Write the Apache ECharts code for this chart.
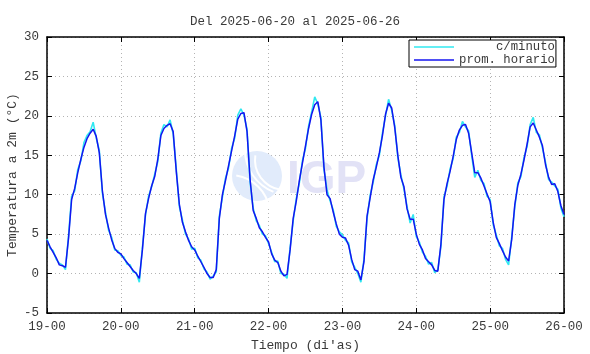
<!DOCTYPE html>
<html>
<head>
<meta charset="utf-8">
<script src="https://cdn.jsdelivr.net/npm/echarts@6/dist/echarts.min.js"></script>
<style>html,body{margin:0;padding:0;background:#fff}#c{width:590px;height:354px}</style>
</head>
<body>
<div id="c"></div>
<script>
// Hourly averages (prom. horario), one array per day, hour 0..23
const avg19 = [4.2, 3.4, 2.7, 2.0, 1.1, 1.0, 0.8, 4.5, 9.4, 10.8, 12.8, 14.5, 16.0, 17.1, 17.8, 18.3, 17.4, 15.3, 10.5, 7.5, 5.8, 4.3, 3.2, 2.7];
const avg20 = [2.5, 1.9, 1.4, 0.9, 0.4, 0.0, -0.6, 3.0, 7.6, 9.5, 11.1, 12.3, 14.5, 17.5, 18.4, 18.8, 19.0, 18.0, 13.0, 8.8, 6.5, 5.3, 4.2, 3.4];
const avg21 = [3.0, 2.2, 1.5, 0.8, 0.0, -0.5, -0.5, 0.5, 7.0, 10.0, 11.8, 13.7, 15.6, 17.5, 19.6, 20.3, 20.4, 18.0, 11.9, 8.0, 7.0, 5.8, 5.3, 4.6];
const avg22 = [4.0, 2.5, 1.7, 1.4, 0.3, -0.3, -0.1, 3.0, 7.0, 9.2, 11.8, 14.0, 16.2, 18.4, 20.2, 21.4, 21.8, 19.5, 13.5, 10.0, 9.5, 7.8, 6.3, 5.0];
const avg23 = [4.6, 4.5, 3.6, 1.8, 0.5, 0.3, -0.8, 1.5, 7.3, 9.6, 11.9, 13.5, 15.3, 17.5, 20.2, 21.6, 21.0, 18.5, 15.0, 12.2, 11.0, 8.2, 6.9, 6.9];
const avg24 = [5.0, 3.7, 3.0, 1.9, 1.5, 1.1, 0.4, 0.3, 3.7, 9.4, 11.4, 13.0, 14.9, 17.0, 18.2, 18.8, 18.9, 17.8, 15.3, 12.8, 12.8, 12.1, 11.1, 10.1];
const avg25 = [9.1, 6.5, 4.6, 3.8, 2.9, 2.1, 1.6, 4.3, 8.7, 11.2, 12.6, 14.4, 16.4, 18.6, 19.1, 18.2, 17.3, 16.2, 13.8, 12.2, 11.3, 11.4, 10.4, 8.6];
const avgEnd = [7.5];

// Minute readings (c/minuto), sampled values read at each hour
const min19 = [4.4, 3.2, 2.9, 1.8, 1.3, 1.1, 0.5, 4.8, 9.8, 10.5, 13.2, 14.3, 16.6, 17.5, 18.0, 19.2, 17.2, 15.6, 10.2, 7.8, 5.5, 4.6, 3.0, 2.9];
const min20 = [2.3, 2.1, 1.2, 1.1, 0.2, 0.1, -1.1, 3.3, 7.4, 9.8, 11.0, 12.6, 14.2, 17.8, 18.9, 18.6, 19.5, 17.7, 13.3, 8.5, 6.8, 5.0, 4.4, 3.1];
const min21 = [3.2, 2.0, 1.7, 0.6, 0.2, -0.7, -0.3, 0.2, 7.3, 9.7, 12.1, 13.4, 15.9, 17.2, 20.1, 20.9, 20.1, 18.3, 11.6, 8.3, 6.7, 6.1, 5.0, 4.8];
const min22 = [3.8, 2.7, 1.5, 1.6, 0.0, -0.1, -0.6, 3.3, 6.7, 9.5, 11.5, 14.3, 15.9, 18.7, 20.5, 22.4, 21.5, 19.8, 13.2, 10.6, 9.2, 8.1, 6.0, 5.3];
const min23 = [4.9, 4.2, 3.9, 1.5, 0.8, 0.0, -1.1, 1.8, 7.0, 9.9, 11.6, 13.8, 15.0, 17.8, 20.0, 22.1, 20.7, 18.8, 14.7, 12.5, 10.7, 8.5, 6.4, 7.5];
const min24 = [4.7, 4.0, 2.7, 2.2, 1.2, 1.4, 0.1, 0.5, 3.4, 9.7, 11.1, 13.3, 14.6, 17.3, 17.9, 19.3, 18.6, 18.1, 15.0, 12.2, 13.1, 11.8, 11.4, 9.8];
const min25 = [9.4, 6.2, 4.9, 3.5, 3.2, 1.8, 1.1, 4.6, 8.4, 11.5, 12.3, 14.7, 16.1, 18.9, 19.8, 17.9, 17.6, 15.9, 14.1, 11.9, 11.6, 11.1, 10.7, 8.3];
const minEnd = [7.2];

const dayLabels = ['19-00', '20-00', '21-00', '22-00', '23-00', '24-00', '25-00', '26-00'];
const yTicks = [-5, 0, 5, 10, 15, 20, 25, 30];
const seriesNames = ['c/minuto', 'prom. horario'];
const titleText = 'Del 2025-06-20 al 2025-06-26';
const xName = "Tiempo (di'as)";
const yName = 'Temperatura a 2m (°C)';

const hourly = [].concat(avg19, avg20, avg21, avg22, avg23, avg24, avg25, avgEnd);
const minute = [].concat(min19, min20, min21, min22, min23, min24, min25, minEnd);

const FONT = 'Liberation Mono';
const TXT = '#3a3a3a';
const CYAN = '#30e8f0';
const BLUE = '#1414f0';
const LINE_ICON = 'path://M0,0 L40,0 L40,1.3 L0,1.3 Z';

const chart = echarts.init(document.getElementById('c'), null, {renderer: 'canvas'});

const axisCommon = {
  type: 'value',
  axisLine: {show: true, onZero: false, lineStyle: {color: '#000', width: 1.5}},
  axisTick: {show: true, inside: true, length: 5, lineStyle: {color: '#000', width: 1}},
};

chart.setOption({
  animation: false,
  backgroundColor: '#fff',
  title: {
    text: titleText, left: 'center', top: 10,
    textStyle: {fontFamily: FONT, fontSize: 12.5, fontWeight: 'normal', color: TXT}
  },
  legend: {
    left: 409, top: 40, orient: 'vertical',
    data: seriesNames.map(n => ({name: n, icon: LINE_ICON})),
    symbolKeepAspect: true,
    formatter: n => n.padStart(13, ' '),
    borderColor: '#000', borderWidth: 1, borderRadius: 0,
    padding: [1, 1, 1, 5], itemGap: 1, itemWidth: 40, itemHeight: 12,
    textStyle: {fontFamily: FONT, fontSize: 12.3, color: TXT, lineHeight: 12},
    backgroundColor: '#fff'
  },
  grid: {left: 47, right: 26, top: 37, bottom: 41, containLabel: false, outerBoundsMode: 'none'},
  xAxis: [
    Object.assign({}, axisCommon, {
      min: 0, max: 168, interval: 24, position: 'bottom',
      axisLabel: {formatter: v => dayLabels[Math.round(v / 24)], fontFamily: FONT, fontSize: 12.5, color: TXT, margin: 7},
      splitLine: {show: true, lineStyle: {color: '#b4b4b4', type: [1, 3], width: 1}},
      name: xName, nameLocation: 'middle', nameGap: 26, nameMoveOverlap: false,
      nameTextStyle: {fontFamily: FONT, fontSize: 13, color: TXT}
    }),
    Object.assign({}, axisCommon, {
      min: 0, max: 168, interval: 24, position: 'top',
      axisLabel: {show: false}, splitLine: {show: false}
    })
  ],
  yAxis: [
    Object.assign({}, axisCommon, {
      min: yTicks[0], max: yTicks[yTicks.length - 1], interval: 5, position: 'left',
      axisLabel: {fontFamily: FONT, fontSize: 12.5, color: TXT, margin: 8},
      splitLine: {show: true, lineStyle: {color: '#b4b4b4', type: [1, 3], width: 1}},
      name: yName, nameLocation: 'middle', nameGap: 28, nameMoveOverlap: false,
      nameTextStyle: {fontFamily: FONT, fontSize: 13, color: TXT}
    }),
    Object.assign({}, axisCommon, {
      min: yTicks[0], max: yTicks[yTicks.length - 1], interval: 5, position: 'right',
      axisLabel: {show: false}, splitLine: {show: false}
    })
  ],
  graphic: [
    {type: 'circle', shape: {cx: 257, cy: 176, r: 25}, style: {fill: '#e1ebfb'}, z: 1, silent: true},
    {type: 'arc', shape: {cx: 285, cy: 160, r: 30, startAngle: Math.PI * 0.55, endAngle: Math.PI * 1.05}, style: {stroke: '#ffffff', lineWidth: 2, fill: null}, z: 1, silent: true},
    {type: 'arc', shape: {cx: 290, cy: 150, r: 45, startAngle: Math.PI * 0.62, endAngle: Math.PI * 1.0}, style: {stroke: '#ffffff', lineWidth: 2, fill: null}, z: 1, silent: true},
    {type: 'arc', shape: {cx: 230, cy: 215, r: 40, startAngle: Math.PI * 1.55, endAngle: Math.PI * 1.95}, style: {stroke: '#ffffff', lineWidth: 2, fill: null}, z: 1, silent: true},
    {type: 'text', left: 287, top: 157, style: {text: 'IGP', font: 'bold 46px "Liberation Sans"', fill: '#e2e2f6'}, z: 1, silent: true}
  ],
  series: [
    {
      name: seriesNames[0], type: 'line', symbol: 'none', z: 3,
      data: minute.map((v, i) => [i, v]),
      lineStyle: {color: CYAN, width: 1.6},
      itemStyle: {color: CYAN}
    },
    {
      name: seriesNames[1], type: 'line', symbol: 'none', z: 4,
      data: hourly.map((v, i) => [i, v]),
      lineStyle: {color: BLUE, width: 1.5},
      itemStyle: {color: BLUE}
    }
  ]
});
</script>
</body>
</html>
